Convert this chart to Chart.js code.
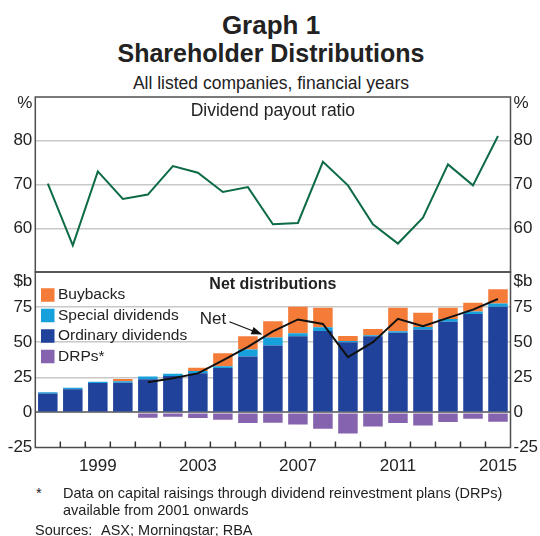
<!DOCTYPE html>
<html>
<head>
<meta charset="utf-8">
<script src="https://cdn.jsdelivr.net/npm/chart.js@4.4.1/dist/chart.umd.min.js"></script>
<style>
  body { margin: 0; background: #fff; }
  #wrap { position: relative; width: 540px; height: 536px; font-family: "Liberation Sans", Arial, sans-serif; color: #222; overflow: hidden; background: #fff; }
  .txt { position: absolute; white-space: nowrap; line-height: 1; }
  .mid { left: 0; width: 542px; text-align: center; }
  .note { font-size: 14.5px; }
  canvas { position: absolute; left: 0; }
</style>
</head>
<body>
<div id="wrap">
  <div class="txt mid" style="top:12px;font-size:26px;font-weight:bold">Graph 1</div>
  <div class="txt mid" style="top:41px;font-size:25px;font-weight:bold">Shareholder Distributions</div>
  <div class="txt mid" style="top:75px;font-size:17.5px">All listed companies, financial years</div>
  <canvas id="payout" width="540" height="212" style="top:75px"></canvas>
  <canvas id="dist" width="540" height="230" style="top:252px"></canvas>
  <div class="txt note" style="left:36px;top:486px">*</div>
  <div class="txt note" style="left:63px;top:486px">Data on capital raisings through dividend reinvestment plans (DRPs)</div>
  <div class="txt note" style="left:63px;top:503px">available from 2001 onwards</div>
  <div class="txt note" style="left:35px;top:523px">Sources:</div>
  <div class="txt note" style="left:101px;top:523px">ASX; Morningstar; RBA</div>
</div>
<script>
// financial years
const years = ['1997', '1998', '1999', '2000', '2001', '2002', '2003', '2004', '2005', '2006',
  '2007', '2008', '2009', '2010', '2011', '2012', '2013', '2014', '2015'];

// top panel, per cent
const payoutRatio = [70.2, 56.1, 73.0, 66.7, 67.7, 74.2, 72.7, 68.3, 69.4, 60.9,
  61.2, 75.2, 69.8, 60.9, 56.5, 62.4, 74.6, 69.8, 81.1];

// bottom panel, $b
const ordinaryDividends = [13.4, 16.5, 21.0, 21.2, 23.6, 25.9, 27.8, 31.6, 39.9, 47.6,
  54.2, 58.0, 50.0, 54.2, 56.8, 59.0, 64.6, 70.0, 75.2];
const specialDividends = [1.0, 1.0, 0.9, 1.0, 1.9, 1.7, 1.7, 1.2, 4.9, 5.7,
  2.2, 2.6, 0.9, 0.8, 1.0, 1.8, 1.9, 1.9, 2.4];
const buybacks = [0, 0, 0, 1.6, 0, 0, 2.3, 9.4, 9.4, 11.6,
  18.8, 13.9, 3.6, 4.4, 16.7, 10.2, 8.0, 6.2, 10.1];
const drps = [null, null, null, null, -3.8, -3.1, -4.0, -5.2, -7.5, -7.3,
  -8.7, -11.6, -15.1, -10.1, -7.5, -9.4, -6.8, -4.5, -6.6];
const netDistributions = [null, null, null, null, 21.5, 24.3, 27.8, 37.0, 46.7, 57.7,
  66.2, 63.0, 39.4, 50.0, 66.7, 61.4, 67.3, 73.2, 80.8];

const payoutTicks = [60, 70, 80];
const distTicks = [-25, 0, 25, 50, 75];
const yearTicks = ['1999', '2003', '2007', '2011', '2015'];

const FONT = '"Liberation Sans", Arial, sans-serif';
const TEXT = '#222';
const GRID = '#c8c8c8';
const NONE = 'rgba(0,0,0,0)';

Chart.defaults.font.family = FONT;
Chart.defaults.color = TEXT;

const leftWidth = 35.3;
const rightWidth = 29.5;

// box round the panel, unit labels at the top of both axes, panel title
const panelPlugin = (unit, unitDy, title, titleDy, titleFont) => ({
  id: 'panel',
  afterDraw(chart) {
    const { ctx, chartArea: a } = chart;
    ctx.save();
    ctx.strokeStyle = '#4d4d4d';
    ctx.lineWidth = 1.5;
    ctx.strokeRect(a.left, a.top, a.right - a.left, a.bottom - a.top);
    ctx.fillStyle = TEXT;
    ctx.textBaseline = 'middle';
    ctx.font = `17px ${FONT}`;
    ctx.textAlign = 'right';
    ctx.fillText(unit, a.left - 3, a.top + unitDy);
    ctx.textAlign = 'left';
    ctx.fillText(unit, a.right + 3, a.top + unitDy);
    ctx.textAlign = 'center';
    ctx.font = titleFont;
    ctx.fillText(title, (a.left + a.right) / 2, a.top + titleDy);
    ctx.restore();
  }
});

const yLabel = (list) => (v) => list.includes(v) ? v : '';

new Chart(document.getElementById('payout'), {
  type: 'line',
  data: {
    labels: years,
    datasets: [{
      data: payoutRatio,
      borderColor: '#0d6b45',
      borderWidth: 2,
      pointRadius: 0,
      tension: 0
    }]
  },
  options: {
    responsive: false,
    animation: false,
    layout: { padding: { top: 22, bottom: 15, left: 0, right: 0 } },
    plugins: { legend: { display: false }, tooltip: { enabled: false } },
    scales: {
      x: { display: false, offset: true },
      y: {
        min: 50, max: 90,
        afterFit: (s) => { s.width = leftWidth; },
        border: { display: false },
        grid: { drawTicks: false, lineWidth: 1.5, color: (c) => payoutTicks.includes(c.tick.value) ? GRID : NONE },
        ticks: { stepSize: 10, padding: 3, font: { size: 17 }, callback: yLabel(payoutTicks) }
      },
      y2: {
        position: 'right',
        min: 50, max: 90,
        afterFit: (s) => { s.width = rightWidth; },
        border: { display: false },
        grid: { display: false, drawTicks: false },
        ticks: { stepSize: 10, padding: 3, font: { size: 17 }, callback: yLabel(payoutTicks) }
      }
    }
  },
  plugins: [panelPlugin('%', 6.5, 'Dividend payout ratio', 14, `17.5px ${FONT}`)]
});

const distData = {
  labels: years,
  datasets: [
    { label: 'Ordinary dividends', data: ordinaryDividends, backgroundColor: '#20429a', stack: 'dist', order: 1 },
    { label: 'Special dividends', data: specialDividends, backgroundColor: '#17a1dc', stack: 'dist', order: 1 },
    { label: 'Buybacks', data: buybacks, backgroundColor: '#f47b38', stack: 'dist', order: 1 },
    { label: 'DRPs*', data: drps, backgroundColor: '#8663ae', stack: 'dist', order: 1 },
    { label: 'Net', type: 'line', data: netDistributions, borderColor: '#111', borderWidth: 2,
      pointRadius: 0, tension: 0, stack: 'net', order: 0 }
  ]
};
const legendOrder = [2, 1, 0, 3];

// legend in the top left corner, Net arrow, inward x ticks
const distExtras = {
  id: 'distExtras',
  afterDraw(chart) {
    const { ctx, chartArea: a, scales } = chart;
    const x = scales.x, y = scales.y;
    ctx.save();

    ctx.strokeStyle = '#333';
    ctx.lineWidth = 1.5;
    for (let i = 1; i < years.length; i++) {
      const px = (x.getPixelForTick(i - 1) + x.getPixelForTick(i)) / 2;
      ctx.beginPath();
      ctx.moveTo(px, a.bottom);
      ctx.lineTo(px, a.bottom - 6);
      ctx.stroke();
    }

    ctx.font = `15.5px ${FONT}`;
    ctx.textBaseline = 'middle';
    ctx.textAlign = 'left';
    legendOrder.forEach((di, row) => {
      const ds = chart.data.datasets[di];
      const cy = a.top + 23 + row * 20.5;
      ctx.fillStyle = ds.backgroundColor;
      ctx.fillRect(a.left + 5.7, cy - 6.75, 13.5, 13.5);
      ctx.fillStyle = TEXT;
      ctx.fillText(ds.label, a.left + 22.7, cy);
    });

    const tx = x.getPixelForValue(6.6), ty = y.getPixelForValue(66.0);
    ctx.font = `17px ${FONT}`;
    ctx.textAlign = 'center';
    ctx.fillText('Net', tx, ty);
    const x0 = x.getPixelForValue(7.26), y0 = y.getPixelForValue(64.6);
    const x1 = x.getPixelForValue(8.58), y1 = y.getPixelForValue(55.4);
    const ang = Math.atan2(y1 - y0, x1 - x0);
    ctx.strokeStyle = '#111';
    ctx.lineWidth = 1.2;
    ctx.beginPath();
    ctx.moveTo(x0, y0);
    ctx.lineTo(x1 - 8 * Math.cos(ang), y1 - 8 * Math.sin(ang));
    ctx.stroke();
    ctx.fillStyle = '#111';
    ctx.beginPath();
    ctx.moveTo(x1, y1);
    ctx.lineTo(x1 - 11 * Math.cos(ang) + 4 * Math.sin(ang), y1 - 11 * Math.sin(ang) - 4 * Math.cos(ang));
    ctx.lineTo(x1 - 11 * Math.cos(ang) - 4 * Math.sin(ang), y1 - 11 * Math.sin(ang) + 4 * Math.cos(ang));
    ctx.closePath();
    ctx.fill();
    ctx.restore();
  }
};

new Chart(document.getElementById('dist'), {
  type: 'bar',
  data: distData,
  options: {
    responsive: false,
    animation: false,
    layout: { padding: { top: 20, bottom: 0, left: 0, right: 0 } },
    datasets: { bar: { barPercentage: 0.78, categoryPercentage: 1, borderWidth: 0 } },
    plugins: { legend: { display: false }, tooltip: { enabled: false } },
    scales: {
      x: {
        stacked: true,
        afterFit: (s) => { s.height = 34.5; },
        border: { display: false },
        grid: { display: false, drawTicks: false },
        ticks: {
          autoSkip: false, maxRotation: 0, padding: 9, font: { size: 17 },
          callback: (v, i) => yearTicks.includes(years[i]) ? years[i] : ''
        }
      },
      y: {
        stacked: true,
        min: -25, max: 100,
        afterFit: (s) => { s.width = leftWidth; },
        border: { display: false },
        grid: {
          drawTicks: false,
          lineWidth: (c) => c.tick.value === 0 ? 2 : 1.5,
          color: (c) => c.tick.value === 0 ? '#7d7d7d' : ([25, 50, 75].includes(c.tick.value) ? GRID : NONE)
        },
        ticks: { stepSize: 25, padding: 3, font: { size: 17 }, callback: yLabel(distTicks) }
      },
      y2: {
        position: 'right',
        min: -25, max: 100,
        afterFit: (s) => { s.width = rightWidth; },
        border: { display: false },
        grid: { display: false, drawTicks: false },
        ticks: { stepSize: 25, padding: 3, font: { size: 17 }, callback: yLabel(distTicks) }
      }
    }
  },
  plugins: [panelPlugin('$b', 9.5, 'Net distributions', 13, `bold 16px ${FONT}`), distExtras]
});
</script>
</body>
</html>
